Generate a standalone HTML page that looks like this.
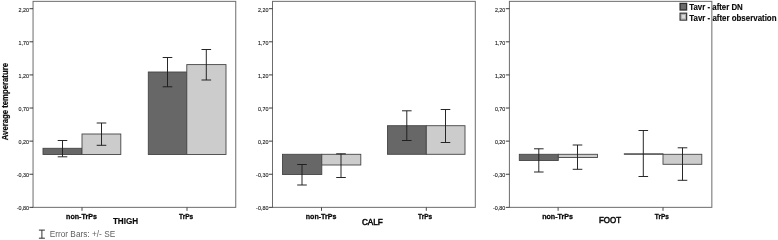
<!DOCTYPE html>
<html><head><meta charset="utf-8"><title>Average temperature chart</title>
<style>
html,body{margin:0;padding:0;background:#fff;}
body{width:778px;height:240px;overflow:hidden;}
svg{display:block;font-family:"Liberation Sans",Arial,sans-serif;}
</style></head><body>
<svg width="778" height="240" viewBox="0 0 778 240">
<rect width="778" height="240" fill="#fff"/>
<rect x="33.05" y="1.35" width="202.70" height="206" fill="#fff" stroke="#6c6c6c" stroke-width="1"/>
<path d="M29.449999999999996 8.70H33.05" stroke="#262626" stroke-width="0.9"/>
<text x="18.55" y="11.5" font-size="6.2" textLength="10.4" lengthAdjust="spacingAndGlyphs" fill="#1a1a1a" stroke="#1a1a1a" stroke-width="0.12">2,20</text>
<path d="M29.449999999999996 41.81H33.05" stroke="#262626" stroke-width="0.9"/>
<text x="18.55" y="44.61" font-size="6.2" textLength="10.4" lengthAdjust="spacingAndGlyphs" fill="#1a1a1a" stroke="#1a1a1a" stroke-width="0.12">1,70</text>
<path d="M29.449999999999996 74.92H33.05" stroke="#262626" stroke-width="0.9"/>
<text x="18.55" y="77.72" font-size="6.2" textLength="10.4" lengthAdjust="spacingAndGlyphs" fill="#1a1a1a" stroke="#1a1a1a" stroke-width="0.12">1,20</text>
<path d="M29.449999999999996 108.03H33.05" stroke="#262626" stroke-width="0.9"/>
<text x="18.55" y="110.83" font-size="6.2" textLength="10.4" lengthAdjust="spacingAndGlyphs" fill="#1a1a1a" stroke="#1a1a1a" stroke-width="0.12">0,70</text>
<path d="M29.449999999999996 141.13H33.05" stroke="#262626" stroke-width="0.9"/>
<text x="18.55" y="143.93" font-size="6.2" textLength="10.4" lengthAdjust="spacingAndGlyphs" fill="#1a1a1a" stroke="#1a1a1a" stroke-width="0.12">0,20</text>
<path d="M29.449999999999996 174.24H33.05" stroke="#262626" stroke-width="0.9"/>
<text x="16.65" y="177.04" font-size="6.2" textLength="12.3" lengthAdjust="spacingAndGlyphs" fill="#1a1a1a" stroke="#1a1a1a" stroke-width="0.12">-0,30</text>
<path d="M29.449999999999996 207.35H33.05" stroke="#262626" stroke-width="0.9"/>
<text x="16.65" y="210.15" font-size="6.2" textLength="12.3" lengthAdjust="spacingAndGlyphs" fill="#1a1a1a" stroke="#1a1a1a" stroke-width="0.12">-0,80</text>
<rect x="43" y="148.3" width="39.00" height="6.20" fill="#676767" stroke="#454545" stroke-width="0.9"/>
<rect x="82" y="134" width="38.80" height="20.50" fill="#cccccc" stroke="#454545" stroke-width="0.9"/>
<rect x="148.3" y="72" width="38.50" height="82.50" fill="#676767" stroke="#454545" stroke-width="0.9"/>
<rect x="186.8" y="64.6" width="39.20" height="89.90" fill="#cccccc" stroke="#454545" stroke-width="0.9"/>
<path d="M62.5 140.5V156.8M57.70 140.5H67.30M57.70 156.8H67.30" stroke="#1c1c1c" stroke-width="0.95" fill="none"/>
<path d="M101.5 123V145.3M96.70 123H106.30M96.70 145.3H106.30" stroke="#1c1c1c" stroke-width="0.95" fill="none"/>
<path d="M167.5 57.5V86.8M162.70 57.5H172.30M162.70 86.8H172.30" stroke="#1c1c1c" stroke-width="0.95" fill="none"/>
<path d="M206.3 49.5V80M201.50 49.5H211.10M201.50 80H211.10" stroke="#1c1c1c" stroke-width="0.95" fill="none"/>
<path d="M82 207.35V210.8" stroke="#484848" stroke-width="1"/>
<path d="M187 207.35V210.8" stroke="#484848" stroke-width="1"/>
<text x="66.1" y="218.55" font-size="8.05" textLength="30.8" lengthAdjust="spacingAndGlyphs" fill="#0a0a0a" font-weight="bold" stroke="#0a0a0a" stroke-width="0.32">non-TrPs</text>
<text x="179.1" y="219" font-size="7.8" textLength="14.1" lengthAdjust="spacingAndGlyphs" fill="#0a0a0a" font-weight="bold" stroke="#0a0a0a" stroke-width="0.32">TrPs</text>
<text x="112.9" y="224" font-size="8.8" textLength="25.3" lengthAdjust="spacingAndGlyphs" fill="#0a0a0a" font-weight="bold" stroke="#0a0a0a" stroke-width="0.15">THIGH</text>
<rect x="272.5" y="1.35" width="202.80" height="206" fill="#fff" stroke="#6c6c6c" stroke-width="1"/>
<path d="M268.9 8.70H272.5" stroke="#262626" stroke-width="0.9"/>
<text x="258.0" y="11.5" font-size="6.2" textLength="10.4" lengthAdjust="spacingAndGlyphs" fill="#1a1a1a" stroke="#1a1a1a" stroke-width="0.12">2,20</text>
<path d="M268.9 41.81H272.5" stroke="#262626" stroke-width="0.9"/>
<text x="258.0" y="44.61" font-size="6.2" textLength="10.4" lengthAdjust="spacingAndGlyphs" fill="#1a1a1a" stroke="#1a1a1a" stroke-width="0.12">1,70</text>
<path d="M268.9 74.92H272.5" stroke="#262626" stroke-width="0.9"/>
<text x="258.0" y="77.72" font-size="6.2" textLength="10.4" lengthAdjust="spacingAndGlyphs" fill="#1a1a1a" stroke="#1a1a1a" stroke-width="0.12">1,20</text>
<path d="M268.9 108.03H272.5" stroke="#262626" stroke-width="0.9"/>
<text x="258.0" y="110.83" font-size="6.2" textLength="10.4" lengthAdjust="spacingAndGlyphs" fill="#1a1a1a" stroke="#1a1a1a" stroke-width="0.12">0,70</text>
<path d="M268.9 141.13H272.5" stroke="#262626" stroke-width="0.9"/>
<text x="258.0" y="143.93" font-size="6.2" textLength="10.4" lengthAdjust="spacingAndGlyphs" fill="#1a1a1a" stroke="#1a1a1a" stroke-width="0.12">0,20</text>
<path d="M268.9 174.24H272.5" stroke="#262626" stroke-width="0.9"/>
<text x="256.1" y="177.04" font-size="6.2" textLength="12.3" lengthAdjust="spacingAndGlyphs" fill="#1a1a1a" stroke="#1a1a1a" stroke-width="0.12">-0,30</text>
<path d="M268.9 207.35H272.5" stroke="#262626" stroke-width="0.9"/>
<text x="256.1" y="210.15" font-size="6.2" textLength="12.3" lengthAdjust="spacingAndGlyphs" fill="#1a1a1a" stroke="#1a1a1a" stroke-width="0.12">-0,80</text>
<rect x="282.5" y="154.3" width="39.30" height="20.20" fill="#676767" stroke="#454545" stroke-width="0.9"/>
<rect x="321.8" y="154.3" width="39.00" height="10.70" fill="#cccccc" stroke="#454545" stroke-width="0.9"/>
<rect x="387.5" y="125.7" width="38.80" height="28.60" fill="#676767" stroke="#454545" stroke-width="0.9"/>
<rect x="426.3" y="125.7" width="38.70" height="28.60" fill="#cccccc" stroke="#454545" stroke-width="0.9"/>
<path d="M302 164.5V185M297.20 164.5H306.80M297.20 185H306.80" stroke="#1c1c1c" stroke-width="0.95" fill="none"/>
<path d="M341 153.8V177.5M336.20 153.8H345.80M336.20 177.5H345.80" stroke="#1c1c1c" stroke-width="0.95" fill="none"/>
<path d="M406.8 110.8V140.5M402.00 110.8H411.60M402.00 140.5H411.60" stroke="#1c1c1c" stroke-width="0.95" fill="none"/>
<path d="M445.5 109.5V142.5M440.70 109.5H450.30M440.70 142.5H450.30" stroke="#1c1c1c" stroke-width="0.95" fill="none"/>
<path d="M321.5 207.35V210.8" stroke="#484848" stroke-width="1"/>
<path d="M426.3 207.35V210.8" stroke="#484848" stroke-width="1"/>
<text x="305.8" y="218.65" font-size="8.05" textLength="30.6" lengthAdjust="spacingAndGlyphs" fill="#0a0a0a" font-weight="bold" stroke="#0a0a0a" stroke-width="0.32">non-TrPs</text>
<text x="418.1" y="218.7" font-size="7.8" textLength="14.1" lengthAdjust="spacingAndGlyphs" fill="#0a0a0a" font-weight="bold" stroke="#0a0a0a" stroke-width="0.32">TrPs</text>
<text x="361.9" y="224.75" font-size="9.1" textLength="20.9" lengthAdjust="spacingAndGlyphs" fill="#0a0a0a" stroke="#0a0a0a" stroke-width="0.55">CALF</text>
<rect x="509.4" y="1.35" width="202.45" height="206" fill="#fff" stroke="#6c6c6c" stroke-width="1"/>
<path d="M505.79999999999995 8.70H509.4" stroke="#262626" stroke-width="0.9"/>
<text x="494.9" y="11.5" font-size="6.2" textLength="10.4" lengthAdjust="spacingAndGlyphs" fill="#1a1a1a" stroke="#1a1a1a" stroke-width="0.12">2,20</text>
<path d="M505.79999999999995 41.81H509.4" stroke="#262626" stroke-width="0.9"/>
<text x="494.9" y="44.61" font-size="6.2" textLength="10.4" lengthAdjust="spacingAndGlyphs" fill="#1a1a1a" stroke="#1a1a1a" stroke-width="0.12">1,70</text>
<path d="M505.79999999999995 74.92H509.4" stroke="#262626" stroke-width="0.9"/>
<text x="494.9" y="77.72" font-size="6.2" textLength="10.4" lengthAdjust="spacingAndGlyphs" fill="#1a1a1a" stroke="#1a1a1a" stroke-width="0.12">1,20</text>
<path d="M505.79999999999995 108.03H509.4" stroke="#262626" stroke-width="0.9"/>
<text x="494.9" y="110.83" font-size="6.2" textLength="10.4" lengthAdjust="spacingAndGlyphs" fill="#1a1a1a" stroke="#1a1a1a" stroke-width="0.12">0,70</text>
<path d="M505.79999999999995 141.13H509.4" stroke="#262626" stroke-width="0.9"/>
<text x="494.9" y="143.93" font-size="6.2" textLength="10.4" lengthAdjust="spacingAndGlyphs" fill="#1a1a1a" stroke="#1a1a1a" stroke-width="0.12">0,20</text>
<path d="M505.79999999999995 174.24H509.4" stroke="#262626" stroke-width="0.9"/>
<text x="493.0" y="177.04" font-size="6.2" textLength="12.3" lengthAdjust="spacingAndGlyphs" fill="#1a1a1a" stroke="#1a1a1a" stroke-width="0.12">-0,30</text>
<path d="M505.79999999999995 207.35H509.4" stroke="#262626" stroke-width="0.9"/>
<text x="493.0" y="210.15" font-size="6.2" textLength="12.3" lengthAdjust="spacingAndGlyphs" fill="#1a1a1a" stroke="#1a1a1a" stroke-width="0.12">-0,80</text>
<rect x="519.3" y="154.3" width="39.00" height="6.20" fill="#676767" stroke="#454545" stroke-width="0.9"/>
<rect x="558.3" y="154.3" width="39.20" height="3.20" fill="#cccccc" stroke="#454545" stroke-width="0.9"/>
<rect x="624.3" y="153.8" width="38.70" height="0.50" fill="#676767" stroke="#454545" stroke-width="0.9"/>
<rect x="663" y="154.3" width="38.80" height="10.00" fill="#cccccc" stroke="#454545" stroke-width="0.9"/>
<path d="M538.8 148.8V172M534.00 148.8H543.60M534.00 172H543.60" stroke="#1c1c1c" stroke-width="0.95" fill="none"/>
<path d="M577.5 145V169.3M572.70 145H582.30M572.70 169.3H582.30" stroke="#1c1c1c" stroke-width="0.95" fill="none"/>
<path d="M643.3 130.5V176.5M638.50 130.5H648.10M638.50 176.5H648.10" stroke="#1c1c1c" stroke-width="0.95" fill="none"/>
<path d="M682.5 147.8V180.3M677.70 147.8H687.30M677.70 180.3H687.30" stroke="#1c1c1c" stroke-width="0.95" fill="none"/>
<path d="M558.1 207.35V210.8" stroke="#484848" stroke-width="1"/>
<path d="M663 207.35V210.8" stroke="#484848" stroke-width="1"/>
<text x="542.2" y="218.55" font-size="8.05" textLength="30.8" lengthAdjust="spacingAndGlyphs" fill="#0a0a0a" font-weight="bold" stroke="#0a0a0a" stroke-width="0.32">non-TrPs</text>
<text x="654.8" y="219" font-size="7.8" textLength="14.1" lengthAdjust="spacingAndGlyphs" fill="#0a0a0a" font-weight="bold" stroke="#0a0a0a" stroke-width="0.32">TrPs</text>
<text x="599" y="223.05" font-size="9.2" textLength="22.1" lengthAdjust="spacingAndGlyphs" fill="#0a0a0a" stroke="#0a0a0a" stroke-width="0.55">FOOT</text>
<text x="0" y="0" font-size="8.9" textLength="77.2" lengthAdjust="spacingAndGlyphs" fill="#0a0a0a" font-weight="bold" stroke="#0a0a0a" stroke-width="0.2" transform="translate(8.1,140.2) rotate(-90)">Average temperature</text>
<rect x="680.1" y="3.4" width="6.5" height="6.6" fill="#6c6c6c" stroke="#2e2e2e" stroke-width="1.3"/>
<rect x="680.1" y="13.2" width="6.5" height="6.9" fill="#dadada" stroke="#3c3c3c" stroke-width="1.3"/>
<rect x="681.3" y="14.4" width="4.1" height="4.5" fill="none" stroke="#a8a8a8" stroke-width="0.8"/>
<text x="689.3" y="10.35" font-size="8.8" textLength="53.5" lengthAdjust="spacingAndGlyphs" fill="#0a0a0a" font-weight="bold" stroke="#0a0a0a" stroke-width="0.15">Tavr - after DN</text>
<text x="689.3" y="20.5" font-size="8.8" textLength="87.2" lengthAdjust="spacingAndGlyphs" fill="#0a0a0a" font-weight="bold" stroke="#0a0a0a" stroke-width="0.15">Tavr - after observation</text>
<path d="M41.9 230.1V238.2M38.9 230.1H44.9M38.9 238.2H44.9" stroke="#1c1c1c" stroke-width="0.9" fill="none"/>
<text x="49.7" y="237" font-size="8.9" textLength="65.5" lengthAdjust="spacingAndGlyphs" fill="#5f5f5f">Error Bars: +/- SE</text>
</svg></body></html>
